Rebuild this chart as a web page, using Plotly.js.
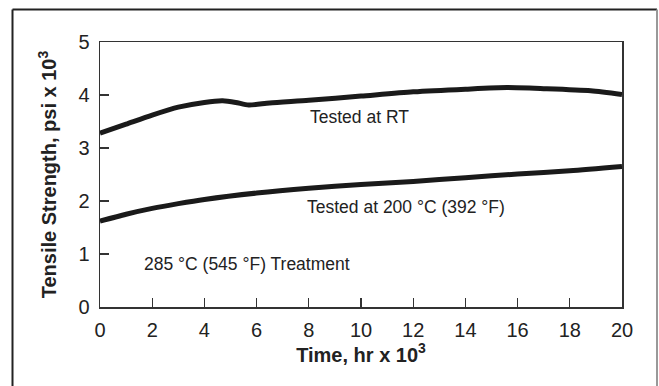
<!DOCTYPE html>
<html>
<head>
<meta charset="utf-8">
<script src="https://cdn.plot.ly/plotly-3.0.1.min.js"></script>
<style>html,body{margin:0;padding:0;background:#fff;}#chart{width:659px;height:386px;}</style>
</head>
<body>
<div id="chart"></div>
<script>
// Tested at room temperature
const timeRT = [0, 1, 2, 3, 4, 4.7, 5.2, 5.7, 6.5, 8, 10, 12, 14, 15.6, 17, 18.8, 20];
const strengthRT = [3.28, 3.45, 3.62, 3.77, 3.86, 3.89, 3.86, 3.81, 3.85, 3.90, 3.98, 4.06, 4.11, 4.14, 4.12, 4.08, 4.01];
// Tested at 200 °C
const time200 = [0, 1, 2, 3, 4, 6, 8, 10, 12, 14, 16, 18, 20];
const strength200 = [1.62, 1.75, 1.86, 1.95, 2.03, 2.15, 2.24, 2.31, 2.37, 2.44, 2.51, 2.57, 2.65];

const xTicks = [0, 2, 4, 6, 8, 10, 12, 14, 16, 18, 20];
const yTicks = [0, 1, 2, 3, 4, 5];

const labels = [
  {text: 'Tested at RT', x: 7.95, y: 3.59},
  {text: 'Tested at 200 °C (392 °F)', x: 7.85, y: 1.89},
  {text: '285 °C (545 °F) Treatment', x: 1.6, y: 0.82}
];

const font = 'Liberation Sans, Arial, Helvetica, sans-serif';
const ink = '#1a1a1a';

const traces = [
  {x: timeRT, y: strengthRT, mode: 'lines', line: {color: ink, width: 5, shape: 'spline', smoothing: 0.7}, hoverinfo: 'skip'},
  {x: time200, y: strength200, mode: 'lines', line: {color: ink, width: 5, shape: 'spline', smoothing: 0.7}, hoverinfo: 'skip'}
];

const L = 100, R = 37, T = 42, B = 79, W = 659, H = 386;
const pw = W - L - R, ph = H - T - B;
const px = v => (v - L) / pw;
const py = v => (H - B - v) / ph;

const layout = {
  width: W, height: H,
  margin: {l: L, r: R, t: T, b: B, pad: 0},
  paper_bgcolor: '#fff', plot_bgcolor: '#fff',
  showlegend: false,
  font: {family: font, color: '#222', size: 18},
  xaxis: {
    range: [0, 20], tickvals: xTicks, ticktext: xTicks.map(String),
    showgrid: false, zeroline: false, showline: true, mirror: true,
    linecolor: '#333', linewidth: 1.5,
    ticks: 'inside', ticklen: 9, tickwidth: 1.2, tickcolor: '#333',
    ticklabelstandoff: 4,
    tickfont: {size: 20, family: font, color: '#222'},
    title: {text: '<b>Time, hr x 10<sup>3</sup></b>', font: {size: 20, family: font, color: '#222'}, standoff: 6},
    fixedrange: true
  },
  yaxis: {
    range: [0, 5], tickvals: yTicks, ticktext: yTicks.map(String),
    showgrid: false, zeroline: false, showline: true, mirror: true,
    linecolor: '#333', linewidth: 1.5,
    ticks: 'inside', ticklen: 9, tickwidth: 1.2, tickcolor: '#333',
    ticklabelstandoff: 5,
    tickfont: {size: 20, family: font, color: '#222'},
    title: {text: '<b>Tensile Strength, psi x 10<sup>3</sup></b>', font: {size: 20, family: font, color: '#222'}, standoff: 16},
    fixedrange: true
  },
  annotations: labels.map(l => ({
    text: l.text, x: l.x, y: l.y, xref: 'x', yref: 'y',
    xanchor: 'left', yanchor: 'middle', showarrow: false,
    font: {size: 17.5, family: font, color: '#222'}
  })),
  shapes: [
    {type: 'line', xref: 'paper', yref: 'paper', x0: px(12.5), x1: px(12.5), y0: py(9.5), y1: py(386), line: {color: '#222', width: 2}},
    {type: 'line', xref: 'paper', yref: 'paper', x0: px(12.5), x1: px(657), y0: py(9.5), y1: py(9.5), line: {color: '#222', width: 2}},
    {type: 'line', xref: 'paper', yref: 'paper', x0: px(657), x1: px(657), y0: py(9.5), y1: py(386), line: {color: '#999', width: 2}}
  ]
};

Plotly.newPlot('chart', traces, layout, {displayModeBar: false, staticPlot: true});
</script>
</body>
</html>
